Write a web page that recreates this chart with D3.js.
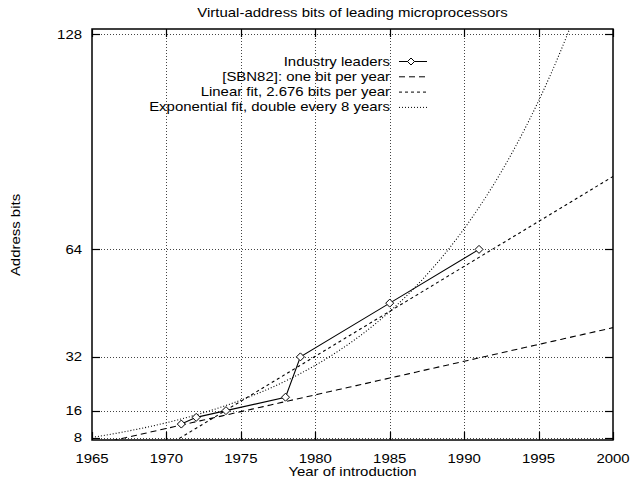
<!DOCTYPE html>
<html>
<head>
<meta charset="utf-8">
<script src="https://cdn.jsdelivr.net/npm/d3@7/dist/d3.min.js"></script>
<style>
  body { margin: 0; background: #fff; }
  svg { display: block; font-family: "Liberation Sans", Arial, sans-serif; }
</style>
</head>
<body>
<div id="chart"></div>
<script>
// Industry leaders (year of introduction, virtual-address bits)
const years = [1971, 1972, 1974, 1978, 1979, 1985, 1991];
const addressBits = [12, 14, 16, 20, 32, 48, 64];

// fit lines
const sbnBitsAt2000 = 40.7; // one bit per year
const linearSlope = 2.676;
const linearAt2000 = 85.7;
const expDoubling = 8;
const expYearAt64 = 1988.94;

const xTicks = [1965, 1970, 1975, 1980, 1985, 1990, 1995, 2000];
const yTicks = [8, 16, 32, 64, 128];

const legendLabels = [
  "Industry leaders",
  "[SBN82]: one bit per year",
  "Linear fit, 2.676 bits per year",
  "Exponential fit, double every 8 years",
];

const width = 631;
const height = 479;
const margin = { top: 29, right: 18, bottom: 39, left: 92 };
const innerWidth = width - margin.left - margin.right;
const innerHeight = height - margin.top - margin.bottom;

const fontSize = 13;
const stretch = 1.15; // the reference glyphs run wider than Liberation Sans

const xScale = d3.scaleLinear().domain([1965, 2000]).range([0, innerWidth]);
const yScale = d3.scaleLinear().domain([7.26, 129.6]).range([innerHeight, 0]);

const styles = {
  sbn: "6,4",
  linear: "3,3",
  exp: "1,2",
};

const svg = d3
  .select("#chart")
  .append("svg")
  .attr("width", width)
  .attr("height", height);

const addText = (parent, x, y, label, anchor = "middle", rotate = 0) =>
  parent
    .append("text")
    .attr("transform", `translate(${x},${y}) rotate(${rotate}) scale(${stretch},1)`)
    .attr("text-anchor", anchor)
    .attr("font-size", fontSize)
    .text(label);

addText(svg, margin.left + innerWidth / 2, 17, "Virtual-address bits of leading microprocessors");

const root = svg
  .append("g")
  .attr("transform", `translate(${margin.left},${margin.top})`);

svg
  .append("defs")
  .append("clipPath")
  .attr("id", "plot-clip")
  .append("rect")
  .attr("width", innerWidth)
  .attr("height", innerHeight);

// grid
const grid = root
  .append("g")
  .attr("stroke", "#444")
  .attr("stroke-width", 1)
  .attr("stroke-dasharray", "1,2");
grid
  .selectAll("line.gx")
  .data(xTicks.slice(1, -1))
  .join("line")
  .attr("class", "gx")
  .attr("x1", (d) => Math.round(xScale(d)) + 0.5)
  .attr("x2", (d) => Math.round(xScale(d)) + 0.5)
  .attr("y1", 0)
  .attr("y2", innerHeight);
grid
  .selectAll("line.gy")
  .data(yTicks)
  .join("line")
  .attr("class", "gy")
  .attr("x1", 0)
  .attr("x2", innerWidth)
  .attr("y1", (d) => Math.round(yScale(d)) + 0.5)
  .attr("y2", (d) => Math.round(yScale(d)) + 0.5);

// ticks (inward, mirrored)
const tickLen = 8;
const ticks = root.append("g").attr("stroke", "#000").attr("stroke-width", 1.2);
xTicks.forEach((d) => {
  const x = Math.round(xScale(d)) + 0.5;
  ticks.append("line").attr("x1", x).attr("x2", x).attr("y1", innerHeight).attr("y2", innerHeight - tickLen);
  ticks.append("line").attr("x1", x).attr("x2", x).attr("y1", 0).attr("y2", tickLen);
});
yTicks.forEach((d) => {
  const y = Math.round(yScale(d)) + 0.5;
  ticks.append("line").attr("x1", 0).attr("x2", tickLen).attr("y1", y).attr("y2", y);
  ticks.append("line").attr("x1", innerWidth).attr("x2", innerWidth - tickLen).attr("y1", y).attr("y2", y);
});

// tick labels
const xLabels = root.append("g");
xTicks.forEach((d) => addText(xLabels, xScale(d), innerHeight + 23, d));
const yLabels = root.append("g");
yTicks.forEach((d) => addText(yLabels, -10, yScale(d) + 4.5, d, "end"));

// axis titles
addText(svg, margin.left + innerWidth / 2, 476, "Year of introduction");
addText(svg, 20, 235, "Address bits", "middle", -90);

// fit curves
const plot = root.append("g").attr("clip-path", "url(#plot-clip)");
const curveYears = d3.range(1965, 2000.01, 0.25);
const line = d3
  .line()
  .x((p) => xScale(p[0]))
  .y((p) => yScale(p[1]));

const fits = [
  { dash: styles.sbn, f: (x) => sbnBitsAt2000 + (x - 2000) },
  { dash: styles.linear, f: (x) => linearAt2000 + linearSlope * (x - 2000) },
  { dash: styles.exp, f: (x) => 64 * Math.pow(2, (x - expYearAt64) / expDoubling) },
];
plot
  .selectAll("path.fit")
  .data(fits)
  .join("path")
  .attr("class", "fit")
  .attr("fill", "none")
  .attr("stroke", "#000")
  .attr("stroke-width", 1.1)
  .attr("stroke-dasharray", (d) => d.dash)
  .attr("d", (d) => line(curveYears.map((x) => [x, d.f(x)])));

// industry leaders
const leaders = years.map((y, i) => [y, addressBits[i]]);
plot
  .append("path")
  .attr("fill", "none")
  .attr("stroke", "#000")
  .attr("stroke-width", 1.1)
  .attr("d", line(leaders));

const diamond = (cx, cy, r) =>
  `M${cx},${cy - r}L${cx + r},${cy}L${cx},${cy + r}L${cx - r},${cy}Z`;
plot
  .selectAll("path.pt")
  .data(leaders)
  .join("path")
  .attr("class", "pt")
  .attr("fill", "#fff")
  .attr("stroke", "#000")
  .attr("stroke-width", 1)
  .attr("d", (p) => diamond(xScale(p[0]), yScale(p[1]), 4));

// border
root
  .append("rect")
  .attr("width", innerWidth)
  .attr("height", innerHeight)
  .attr("fill", "none")
  .attr("stroke", "#000")
  .attr("stroke-width", 1.5);

// legend
const legendX = 390;
const legendY = 61;
const legendStep = 15.3;
const legend = svg.append("g");
legendLabels.forEach((label, i) => {
  const y = legendY + i * legendStep;
  addText(legend, legendX, y + 4.5, label, "end");
  const sample = legend
    .append("line")
    .attr("x1", 399)
    .attr("x2", 427)
    .attr("y1", y + 0.5)
    .attr("y2", y + 0.5)
    .attr("stroke", "#000")
    .attr("stroke-width", 1);
  if (i === 0) {
    legend
      .append("path")
      .attr("fill", "#fff")
      .attr("stroke", "#000")
      .attr("d", diamond(411, y + 0.5, 3.5));
  } else {
    sample.attr("stroke-dasharray", [styles.sbn, styles.linear, styles.exp][i - 1]);
  }
});
</script>
</body>
</html>
